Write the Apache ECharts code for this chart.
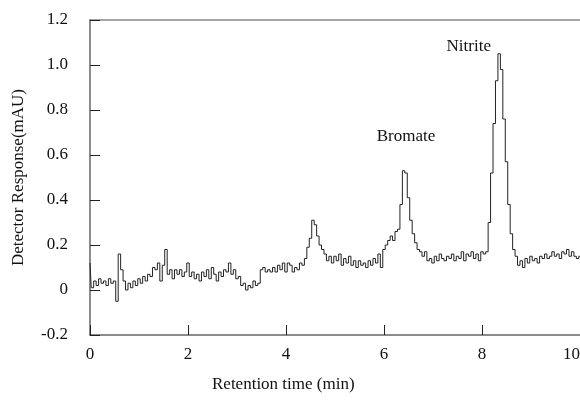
<!DOCTYPE html>
<html>
<head>
<meta charset="utf-8">
<script src="https://cdn.jsdelivr.net/npm/echarts@6/dist/echarts.min.js"></script>
<style>
  html, body { margin: 0; padding: 0; background: #fff; }
  #main { width: 580px; height: 402px; }
</style>
</head>
<body>
<div id="main"></div>
<script>
// retention time (min)
var times = [
  0.00, 0.05, 0.10, 0.15, 0.20, 0.25, 0.30, 0.35, 0.40, 0.45,
  0.50, 0.55, 0.60, 0.65, 0.70, 0.75, 0.80, 0.85, 0.90, 0.95,
  1.00, 1.05, 1.10, 1.15, 1.20, 1.25, 1.30, 1.35, 1.40, 1.45,
  1.50, 1.55, 1.60, 1.65, 1.70, 1.75, 1.80, 1.85, 1.90, 1.95,
  2.00, 2.05, 2.10, 2.15, 2.20, 2.25, 2.30, 2.35, 2.40, 2.45,
  2.50, 2.55, 2.60, 2.65, 2.70, 2.75, 2.80, 2.85, 2.90, 2.95,
  3.00, 3.05, 3.10, 3.15, 3.20, 3.25, 3.30, 3.35, 3.40, 3.45,
  3.50, 3.55, 3.60, 3.65, 3.70, 3.75, 3.80, 3.85, 3.90, 3.95,
  4.00, 4.05, 4.10, 4.15, 4.20, 4.25, 4.30, 4.35, 4.40, 4.45,
  4.50, 4.55, 4.60, 4.65, 4.70, 4.75, 4.80, 4.85, 4.90, 4.95,
  5.00, 5.05, 5.10, 5.15, 5.20, 5.25, 5.30, 5.35, 5.40, 5.45,
  5.50, 5.55, 5.60, 5.65, 5.70, 5.75, 5.80, 5.85, 5.90, 5.95,
  6.00, 6.05, 6.10, 6.15, 6.20, 6.25, 6.30, 6.35, 6.40, 6.45,
  6.50, 6.55, 6.60, 6.65, 6.70, 6.75, 6.80, 6.85, 6.90, 6.95,
  7.00, 7.05, 7.10, 7.15, 7.20, 7.25, 7.30, 7.35, 7.40, 7.45,
  7.50, 7.55, 7.60, 7.65, 7.70, 7.75, 7.80, 7.85, 7.90, 7.95,
  8.00, 8.05, 8.10, 8.15, 8.20, 8.25, 8.30, 8.35, 8.40, 8.45,
  8.50, 8.55, 8.60, 8.65, 8.70, 8.75, 8.80, 8.85, 8.90, 8.95,
  9.00, 9.05, 9.10, 9.15, 9.20, 9.25, 9.30, 9.35, 9.40, 9.45,
  9.50, 9.55, 9.60, 9.65, 9.70, 9.75, 9.80, 9.85, 9.90, 9.95,
  10.00
];

// detector response (mAU)
var response = [
  0.12, 0.01, 0.04, 0.02, 0.05, 0.03, 0.04, 0.02, 0.05, 0.03,
  0.04, -0.05, 0.16, 0.09, 0.04, 0.00, 0.03, 0.01, 0.04, 0.02,
  0.05, 0.03, 0.06, 0.04, 0.07, 0.06, 0.10, 0.09, 0.12, 0.04,
  0.11, 0.18, 0.07, 0.09, 0.05, 0.09, 0.07, 0.09, 0.06, 0.08,
  0.12, 0.06, 0.08, 0.05, 0.07, 0.04, 0.08, 0.06, 0.09, 0.05,
  0.10, 0.07, 0.04, 0.08, 0.06, 0.09, 0.08, 0.12, 0.07, 0.09,
  0.05, 0.06, 0.02, 0.03, 0.00, 0.02, 0.01, 0.04, 0.02, 0.03,
  0.09, 0.10, 0.08, 0.09, 0.08, 0.10, 0.08, 0.11, 0.09, 0.12,
  0.08, 0.12, 0.11, 0.08, 0.10, 0.09, 0.12, 0.11, 0.14, 0.19,
  0.23, 0.31, 0.29, 0.24, 0.20, 0.18, 0.16, 0.13, 0.15, 0.12,
  0.15, 0.13, 0.16, 0.11, 0.14, 0.12, 0.15, 0.11, 0.13, 0.10,
  0.13, 0.11, 0.12, 0.10, 0.13, 0.11, 0.14, 0.12, 0.16, 0.10,
  0.18, 0.20, 0.22, 0.24, 0.22, 0.26, 0.27, 0.38, 0.53, 0.52,
  0.41, 0.31, 0.25, 0.21, 0.18, 0.17, 0.15, 0.17, 0.13, 0.14,
  0.12, 0.15, 0.13, 0.16, 0.14, 0.13, 0.15, 0.14, 0.16, 0.13,
  0.15, 0.14, 0.17, 0.13, 0.16, 0.15, 0.17, 0.14, 0.16, 0.13,
  0.17, 0.16, 0.17, 0.30, 0.52, 0.74, 0.93, 1.05, 0.98, 0.76,
  0.57, 0.38, 0.25, 0.18, 0.15, 0.11, 0.13, 0.10, 0.14, 0.12,
  0.15, 0.13, 0.14, 0.12, 0.15, 0.14, 0.16, 0.14, 0.15, 0.17,
  0.15, 0.16, 0.14, 0.17, 0.16, 0.18, 0.15, 0.17, 0.15, 0.14,
  0.15
];

// peak labels: name, time, response
var peakNames = ['Bromate', 'Nitrite'];
var peakTimes = [6.45, 7.73];
var peakLabelY = [0.68, 1.08];

var serif = "'Liberation Serif', 'DejaVu Serif', serif";

var dom = document.getElementById('main');
var myChart = echarts.init(dom);

var points = [];
for (var i = 0; i < times.length; i++) {
  points.push([times[i], response[i]]);
}

var marks = [];
for (var j = 0; j < peakNames.length; j++) {
  marks.push({ name: peakNames[j], coord: [peakTimes[j], peakLabelY[j]] });
}

var option = {
  animation: false,
  title: {
    text: 'Retention time (min)',
    left: 207,
    top: 371,
    textStyle: { fontFamily: serif, fontSize: 17, fontWeight: 'normal', color: '#111' }
  },
  grid: {
    left: 90,
    right: 0,
    top: 20,
    bottom: 67,
    containLabel: false,
    outerBoundsMode: 'none'
  },
  xAxis: [{
    type: 'value',
    min: 0,
    max: 10,
    interval: 2,
    axisLine: { show: true, onZero: false, lineStyle: { color: '#666', width: 1.5 } },
    axisTick: { show: true, inside: true, length: 10, lineStyle: { color: '#222', width: 1 } },
    axisLabel: {
      margin: 11,
      fontFamily: serif,
      fontSize: 17,
      color: '#111',
      alignMaxLabel: 'right'
    },
    splitLine: { show: false }
  }, {
    type: 'value',
    position: 'top',
    min: 0,
    max: 10,
    axisLine: { show: true, onZero: false, lineStyle: { color: '#888', width: 1.5 } },
    axisTick: { show: false },
    axisLabel: { show: false },
    splitLine: { show: false }
  }],
  yAxis: {
    type: 'value',
    min: -0.2,
    max: 1.2,
    interval: 0.2,
    name: 'Detector Response(mAU)',
    nameLocation: 'middle',
    nameGap: 63,
    nameTextStyle: { fontFamily: serif, fontSize: 17, color: '#111' },
    axisLine: { show: true, onZero: false, lineStyle: { color: '#666', width: 1.5 } },
    axisTick: { show: true, inside: true, length: 10, lineStyle: { color: '#222', width: 1 } },
    axisLabel: {
      margin: 22,
      fontFamily: serif,
      fontSize: 17,
      color: '#111',
      formatter: function (v) {
        return Math.abs(v) < 1e-9 ? '0' : v.toFixed(1);
      }
    },
    splitLine: { show: false }
  },
  series: [{
    type: 'line',
    xAxisIndex: 0,
    data: points,
    step: 'middle',
    showSymbol: false,
    symbol: 'none',
    lineStyle: { color: '#222', width: 1 },
    markPoint: {
      symbol: 'circle',
      symbolSize: 0,
      label: {
        show: true,
        position: 'inside',
        formatter: '{b}',
        fontFamily: serif,
        fontSize: 17,
        color: '#111'
      },
      data: marks
    }
  }]
};

myChart.setOption(option);
</script>
</body>
</html>
